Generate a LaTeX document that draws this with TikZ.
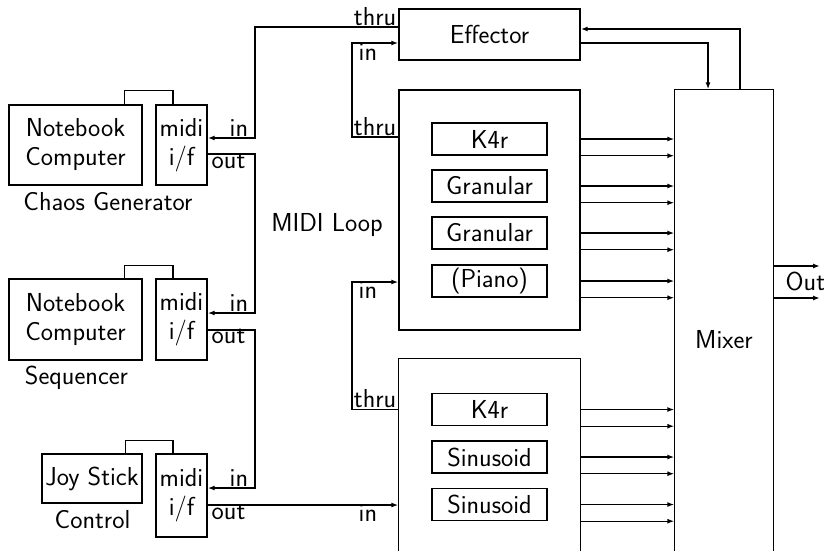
\documentclass[tikz,border=0pt]{standalone}
\usepackage{fontspec}
\usetikzlibrary{arrows.meta}
\begin{document}
\begin{tikzpicture}[x=1pt,y=-1pt,
  font=\sffamily\fontsize{26}{29}\selectfont,
  line width=1.4pt,
  box/.style={draw, inner sep=0pt, align=center},
  inbox/.style={box, minimum width=115pt, minimum height=32pt},
  lbl/.style={inner sep=0pt},
  arr/.style={-{Latex[length=7pt,width=5pt]}}]
\useasboundingbox (0,0) rectangle (824,551);

% left column
\node[box, minimum width=133pt, minimum height=80pt] (nb1) at (75.5,145) {Notebook\\Computer};
\node[box, minimum width=51pt, minimum height=80pt] (mi1) at (181.5,145) {midi\\i/f};
\node[box, minimum width=133pt, minimum height=81pt] (nb2) at (75.5,319.5) {Notebook\\Computer};
\node[box, minimum width=51pt, minimum height=81pt] (mi2) at (181.5,319.5) {midi\\i/f};
\node[box, minimum width=100pt, minimum height=49pt] (js) at (92,478.5) {Joy Stick};
\node[box, minimum width=51pt, minimum height=83pt] (mi3) at (181.5,495.5) {midi\\i/f};

\node[lbl, anchor=base] (cg) at (108,210) {Chaos Generator};
\node[lbl, anchor=base] (sq) at (76.5,384) {Sequencer};
\node[lbl, anchor=base] (ct) at (92.5,528) {Control};
\node[lbl, anchor=base] (ml) at (327,231) {MIDI Loop};

% computer-interface links
\draw ([xshift=-18pt]nb1.north east) -- ++(0,-14) -| ([xshift=-8.5pt]mi1.north);
\draw ([xshift=-18pt]nb2.north east) -- ++(0,-13) -| ([xshift=-8.5pt]mi2.north);
\draw ([xshift=-17pt]js.north east) -- ++(0,-13) -| ([xshift=-8.5pt]mi3.north);

% effector, synths, mixer
\node[box, minimum width=181pt, minimum height=51pt] (eff) at (489.5,34.5) {Effector};
\node[box, minimum width=181pt, minimum height=240pt] (syn1) at (489.5,210) {};
\node[inner sep=0pt, minimum width=181pt, minimum height=192pt] (syn2) at (489.5,455) {};
\draw (syn2.south west) -- (syn2.north west) -- (syn2.north east) -- (syn2.south east);
\node[inner sep=0pt, minimum width=98pt, minimum height=461pt] (mix) at (724,320.5) {};
\draw (mix.south west) -- (mix.north west) -- (mix.north east) -- (mix.south east);
\node[lbl] (mixl) at (724,340) {Mixer};

\node[inbox] (k1) at (489.5,139) {K4r};
\node[inbox] (g1) at (489.5,186) {Granular};
\node[inbox] (g2) at (489.5,233) {Granular};
\node[inbox] (pi) at (489.5,281) {(Piano)};
\node[inbox] (k2) at (489.5,409.5) {K4r};
\node[inbox] (s1) at (489.5,457) {Sinusoid};
\node[inbox] (s2) at (489.5,504.5) {Sinusoid};

% synth outputs to mixer
\foreach \b in {k1,g1,g2,pi,k2,s1,s2}{
  \draw[arr] (\b.east -| syn1.east) -- (\b.east -| mix.west);
  \draw[arr] (\b.south east -| syn1.east) -- (\b.south east -| mix.west);
}

% effector <-> mixer
\draw[arr] ([xshift=16pt]mix.north) |- ([yshift=5.5pt]eff.east);
\draw[arr] ([yshift=-8.5pt]eff.east) -| ([xshift=-16pt]mix.north);

% outputs
\coordinate (o1) at (820,266);
\coordinate (o2) at (820,298);
\draw[arr] (o1 -| mix.east) -- (o1);
\draw[arr] (o2 -| mix.east) -- (o2);
\node[lbl, anchor=base west] (outl) at (785,290) {Out};

% MIDI loop
\coordinate (xA) at (255,0);
\coordinate (xB) at (352,0);
\coordinate (effT) at ([yshift=7.5pt]eff.west);
\coordinate (effI) at ([yshift=-8.5pt]eff.west);
\coordinate (s1T) at ([yshift=73pt]syn1.west);
\coordinate (s1I) at ([yshift=-72pt]syn1.west);
\coordinate (m1I) at ([yshift=7pt]mi1.east);
\coordinate (m1O) at ([yshift=-9pt]mi1.east);
\coordinate (m2I) at ([yshift=6.5pt]mi2.east);
\coordinate (m2O) at ([yshift=-10.5pt]mi2.east);
\coordinate (m3I) at ([yshift=7.5pt]mi3.east);
\coordinate (m3O) at ([yshift=-9.5pt]mi3.east);
\coordinate (s2T) at (k2.east -| syn2.west);

\draw[arr] (effT) -- (effT -| xA) -- (m1I -| xA) -- (m1I);
\draw[arr] (m1O) -- (m1O -| xA) -- (m2I -| xA) -- (m2I);
\draw[arr] (m2O) -- (m2O -| xA) -- (m3I -| xA) -- (m3I);
\draw[arr] (m3O) -- (m3O -| syn2.west);
\draw[arr] (s2T) -- (s2T -| xB) -- (s1I -| xB) -- (s1I);
\draw[arr] (s1T) -- (s1T -| xB) -- (effI -| xB) -- (effI);

% port labels
\node[lbl, anchor=base east] (t1) at (397,25.5) {thru};
\node[lbl, anchor=base east] (t2) at (397,135.5) {thru};
\node[lbl, anchor=base east] (t3) at (397,407.5) {thru};
\node[lbl, anchor=base west] (i1) at (358,60) {in};
\node[lbl, anchor=base west] (i2) at (358,298) {in};
\node[lbl, anchor=base west] (i3) at (358,521) {in};
\node[lbl, anchor=base west] (i4) at (229,136.5) {in};
\node[lbl, anchor=base west] (i5) at (229,311.5) {in};
\node[lbl, anchor=base west] (i6) at (229,486.5) {in};
\node[lbl, anchor=base west] (o4) at (211,168) {out};
\node[lbl, anchor=base west] (o5) at (211,343) {out};
\node[lbl, anchor=base west] (o6) at (211,519) {out};
\end{tikzpicture}
\end{document}
